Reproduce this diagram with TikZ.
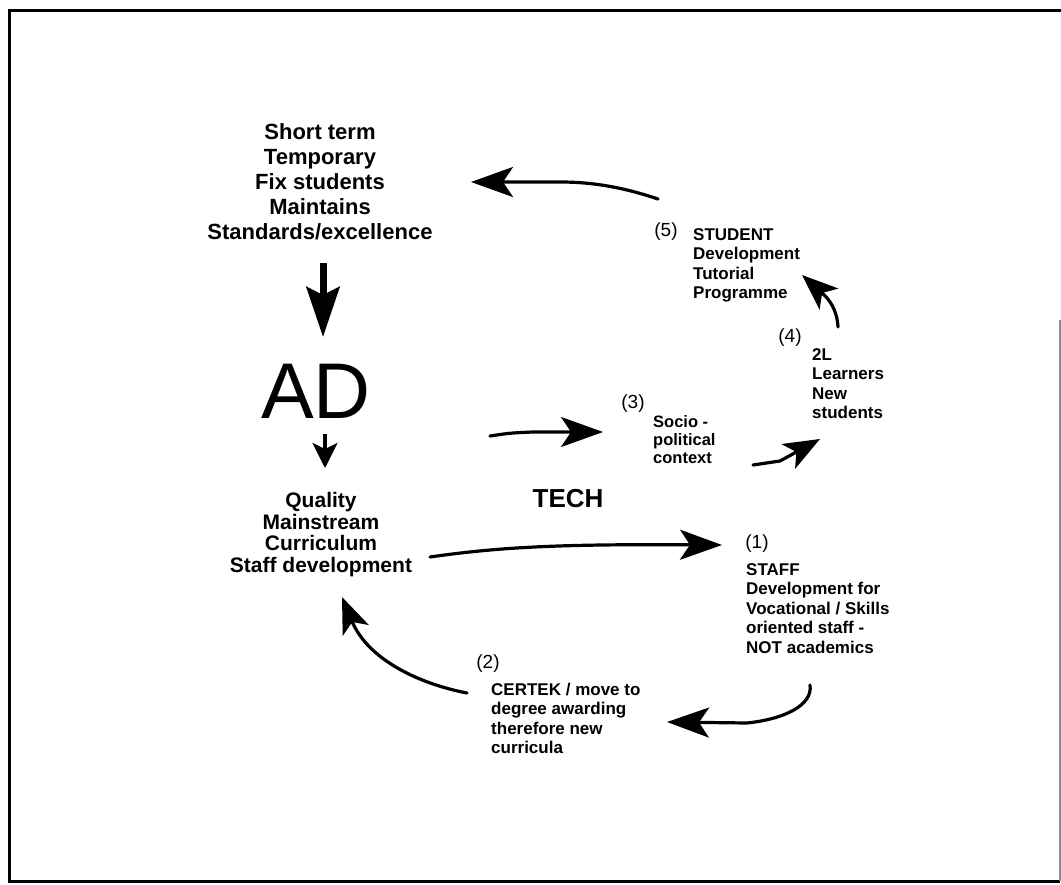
\documentclass[tikz,border=0pt]{standalone}
\usepackage{fontspec}
\setmainfont{Liberation Sans}
\usetikzlibrary{arrows.meta}
\begin{document}
\begin{tikzpicture}[x=1pt,y=-1pt,
  ctrtext/.style={inner sep=0pt, align=center, anchor=north,
    font=\bfseries\fontsize{22}{25}\selectfont},
  blocktext/.style={inner sep=0pt, align=left, anchor=north west,
    font=\bfseries\fontsize{17}{19.5}\selectfont},
  numtext/.style={inner sep=0pt, anchor=base, font=\fontsize{19}{22}\selectfont},
  conn/.style={line width=3.2pt, line cap=round, line join=round,
    -{Stealth[length=42pt,width=30pt,inset=10pt]}},
  smallconn/.style={line width=3.2pt, line cap=round, line join=round,
    -{Stealth[length=36pt,width=28pt,inset=9pt]}}]

\useasboundingbox (0,0) rectangle (1061,885);

% outer frame
\draw[line width=3pt] (1061,11) -- (9,11) -- (9,881) -- (1060,881);
\draw[line width=2pt, black!45] (1060,320) -- (1060,881);

% central terms
\node[ctrtext] (fix) at (320,123)
  {Short term\\Temporary\\Fix students\\Maintains\\Standards/excellence};
\node[inner sep=0pt, anchor=base, font=\fontsize{79}{80}\selectfont] (ad) at (316,418) {AD};
\node[ctrtext, font=\bfseries\fontsize{21}{21.7}\selectfont] (qual) at (321,492)
  {Quality\\Mainstream\\Curriculum\\Staff development};
\node[inner sep=0pt, anchor=base, font=\bfseries\fontsize{26}{28}\selectfont] (tech) at (568,507) {TECH};

% numbered stages
\node[numtext] (n1) at (757,548) {(1)};
\node[blocktext] (staff) at (746,563)
  {STAFF\\Development for\\Vocational / Skills\\oriented staff -\\NOT academics};
\node[numtext] (n2) at (488,668) {(2)};
\node[blocktext, font=\bfseries\fontsize{17}{19.3}\selectfont] (certek) at (491,683)
  {CERTEK / move to\\degree awarding\\therefore new\\curricula};
\node[numtext] (n3) at (633,409) {(3)};
\node[blocktext, font=\bfseries\fontsize{16.5}{18}\selectfont] (socio) at (653,415)
  {Socio -\\political\\context};
\node[numtext] (n4) at (790,343) {(4)};
\node[blocktext] (learners) at (812,348)
  {2L\\Learners\\New\\students};
\node[numtext] (n5) at (666,237) {(5)};
\node[blocktext] (student) at (693,228)
  {STUDENT\\Development\\Tutorial\\Programme};

% connector end points
\coordinate (fixS) at (323,263);
\coordinate (adN) at (323,337);
\coordinate (adS) at (325,434);
\coordinate (qualN) at (325,468);
\coordinate (adE) at (490,436);
\coordinate (socioW) at (603,432);
\coordinate (qualE) at (430,557);
\coordinate (staffW) at (722,545);
\coordinate (staffS) at (810,685);
\coordinate (certekE) at (667,722);
\coordinate (certekW) at (467,693);
\coordinate (qualS) at (342,597);
\coordinate (socioE) at (753,465);
\coordinate (learnersSW) at (820,439);
\coordinate (learnersN) at (838,327);
\coordinate (studentSE) at (802,275);
\coordinate (studentNW) at (658,199);
\coordinate (fixE) at (471,182);

% heavy arrow into AD and short arrow out of it
\draw[line width=7pt, -{Stealth[length=50pt,width=33pt,inset=8pt]}] (fixS) -- (adN);
\draw[line width=3.2pt, -{Stealth[length=25pt,width=25pt,inset=6pt]}] (adS) -- (qualN);

% the development cycle
\draw[conn] (qualE) .. controls (500,547) and (560,544) .. (staffW);
\draw[conn] (staffS) .. controls (813,705) and (785,719) .. (747,723) -- (certekE);
\draw[smallconn] (certekW) .. controls (420,684) and (368,660) .. (qualS);
\draw[conn] (adE) .. controls (510,433) .. (533,432) -- (socioW);
\draw[smallconn] (socioE) -- (780,461) -- (learnersSW);
\draw[smallconn] (learnersN) .. controls (837,310) and (830,300) .. (studentSE);
\draw[conn] (studentNW) .. controls (625,188) and (595,182) .. (560,182) -- (fixE);

\end{tikzpicture}
\end{document}
